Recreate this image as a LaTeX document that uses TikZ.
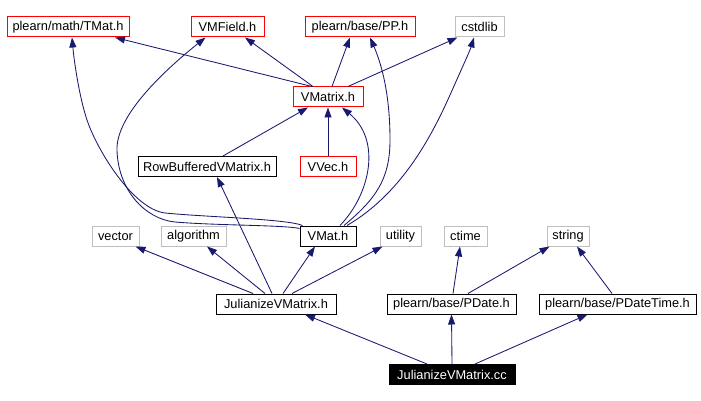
\documentclass[tikz,border=0pt]{standalone}
\usepackage{fontspec}
\setmainfont{Liberation Sans}
\usetikzlibrary{arrows.meta}
\definecolor{edgeblue}{RGB}{25,25,112}
\definecolor{boxgray}{RGB}{191,191,191}
\begin{document}
\begin{tikzpicture}[x=1pt,y=-1pt,
 box/.style={draw, line width=1pt, minimum height=20pt, inner sep=0pt, font=\fontsize{12.8}{14}\selectfont, anchor=center},
 redbox/.style={box, draw=red},
 graybox/.style={box, draw=boxgray},
 blackbox/.style={box, draw=black},
 rootbox/.style={box, draw=black, fill=black, text=white},
 edge/.style={draw=edgeblue, line width=0.85pt, -{Triangle[length=10pt,width=7pt]}}]
\path[use as bounding box, fill=white] (0,0) rectangle (701,401);
% nodes
\node[redbox, minimum width=122pt] (tmat) at (68,27) {plearn/math/TMat.h};
\node[redbox, minimum width=73pt] (vmfield) at (227.5,27) {VMField.h};
\node[redbox, minimum width=110pt] (pp) at (360,27) {plearn/base/PP.h};
\node[graybox, minimum width=49pt] (cstdlib) at (479.5,27) {cstdlib};
\node[redbox, minimum width=70pt] (vmatrix) at (328,97) {VMatrix.h};
\node[blackbox, minimum width=138pt] (rowbuf) at (207,166.5) {RowBufferedVMatrix.h};
\node[redbox, minimum width=56pt] (vvec) at (328,166.5) {VVec.h};
\node[blackbox, minimum width=56pt] (vmat) at (328,236) {VMat.h};
\node[graybox, minimum width=47pt] (vector) at (115.5,236) {vector};
\node[graybox, minimum width=65pt] (algorithm) at (193.5,236) {algorithm};
\node[graybox, minimum width=41pt] (utility) at (400.5,236) {utility};
\node[graybox, minimum width=43pt] (ctime) at (465.5,236) {ctime};
\node[graybox, minimum width=42pt] (string) at (568,236) {string};
\node[blackbox, minimum width=120pt] (julh) at (276,304) {JulianizeVMatrix.h};
\node[blackbox, minimum width=129pt] (pdate) at (451.5,304) {plearn/base/PDate.h};
\node[blackbox, minimum width=157pt] (pdatetime) at (617.5,304) {plearn/base/PDateTime.h};
\node[rootbox, minimum width=126pt] (julcc) at (452,374.5) {JulianizeVMatrix.cc};
% edges from VMatrix
\draw[edge] ([xshift=-16pt]vmatrix.north) -- ([xshift=47pt]tmat.south);
\draw[edge] ([xshift=-15pt]vmatrix.north) -- ([xshift=17.5pt]vmfield.south);
\draw[edge] ([xshift=4pt]vmatrix.north) -- ([xshift=-10pt]pp.south);
\draw[edge] ([xshift=20pt]vmatrix.north) -- ([xshift=-22pt]cstdlib.south);
% into VMatrix
\draw[edge] ([xshift=16pt]rowbuf.north) -- ([xshift=-20pt]vmatrix.south);
\draw[edge] (vvec.north) -- (vmatrix.south);
\draw[edge] ([xshift=12pt]vmat.north) .. controls +(30,-31) and +(40,33) .. ([xshift=14pt]vmatrix.south);
% from VMat
\draw[edge] ([xshift=16pt]vmat.north) .. controls +(31,-26) and +(0,40) .. (390,140) .. controls +(0,-50) and +(10,23) .. ([xshift=10pt]pp.south);
\draw[edge] ([xshift=19pt]vmat.north) .. controls +(53,-31) and +(-20,45) .. (450,95) .. controls +(12,-27) and +(-4,13) .. ([xshift=-5.5pt]cstdlib.south);
\draw[edge] ([xshift=3pt]vmat.north west) .. controls (288,219) and (205,217) .. (165,213) .. controls (133,209) and (97,150) .. (87,120) .. controls (79,96) and (74,60) .. ([xshift=4pt]tmat.south);
\draw[edge] ([yshift=-3pt]vmat.north west) .. controls (285,225) and (215,225.5) .. (175,222) .. controls (145,219) and (118,190) .. (117,150) .. controls (116,115) and (165,70) .. ([xshift=-22pt]vmfield.south);
% from JulianizeVMatrix.h
\draw[edge] ([xshift=-23pt]julh.north) -- ([xshift=20pt]vector.south);
\draw[edge] ([xshift=-11pt]julh.north) -- ([xshift=13.5pt]algorithm.south);
\draw[edge] ([xshift=-4pt]julh.north) -- ([xshift=10pt]rowbuf.south);
\draw[edge] ([xshift=7pt]julh.north) -- ([xshift=-13pt]vmat.south);
\draw[edge] ([xshift=16pt]julh.north) -- ([xshift=3pt]utility.south west);
% from PDate / PDateTime
\draw[edge] ([xshift=1.5pt]pdate.north) -- ([xshift=-5.5pt]ctime.south);
\draw[edge] ([xshift=16.5pt]pdate.north) -- ([xshift=3pt]string.south west);
\draw[edge] ([xshift=-5.5pt]pdatetime.north) -- ([xshift=9pt]string.south);
% from the .cc
\draw[edge] ([xshift=-25pt]julcc.north) -- ([xshift=29pt]julh.south);
\draw[edge] (julcc.north) -- (pdate.south);
\draw[edge] ([xshift=23pt]julcc.north) -- ([xshift=-30pt]pdatetime.south);
\end{tikzpicture}
\end{document}
